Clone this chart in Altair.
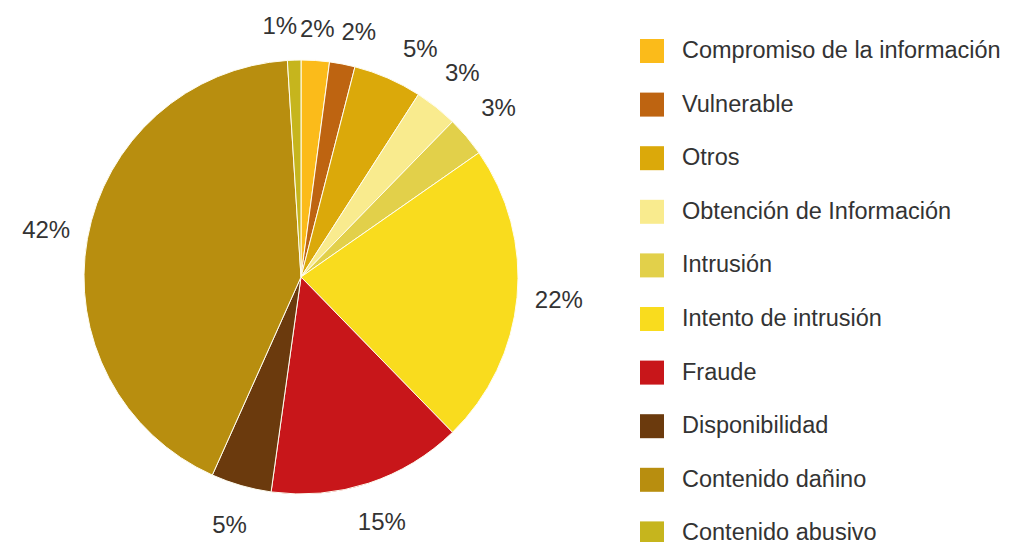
import altair as alt
import pandas as pd

categorias = [
    "Compromiso de la información",
    "Vulnerable",
    "Otros",
    "Obtención de Información",
    "Intrusión",
    "Intento de intrusión",
    "Fraude",
    "Disponibilidad",
    "Contenido dañino",
    "Contenido abusivo",
]
valores = [2.1, 1.9, 5.1, 3.2, 3.0, 22.4, 14.5, 4.5, 42.3, 1.0]
etiquetas = ["2%", "2%", "5%", "3%", "3%", "22%", "15%", "5%", "42%", "1%"]
colores = [
    "#FBBB1A",
    "#BE6411",
    "#DBA90A",
    "#F9EB8E",
    "#E2D04A",
    "#F9DC1E",
    "#C8161A",
    "#6B3A0D",
    "#B88E0F",
    "#C6B51D",
]

df = pd.DataFrame({
    "categoria": categorias,
    "valor": valores,
    "etiqueta": etiquetas,
    "orden": list(range(len(categorias))),
})

CX, CY = 293, 269

base = alt.Chart(df).encode(
    theta=alt.Theta("valor:Q", stack=True),
    order=alt.Order("orden:Q"),
    x=alt.value(CX),
    y=alt.value(CY),
)

pie = base.mark_arc(outerRadius=217, stroke="#fffdf0", strokeWidth=1).encode(
    color=alt.Color(
        "categoria:N",
        scale=alt.Scale(domain=categorias, range=colores),
        legend=alt.Legend(
            title=None,
            orient="none",
            legendX=632,
            legendY=31,
            symbolType="square",
            symbolSize=576,
            symbolStrokeWidth=0,
            labelFontSize=23.5,
            labelFont="Liberation Sans",
            labelColor="#333333",
            labelOffset=18,
            rowPadding=29.6,
            padding=0,
            labelLimit=400,
        ),
    ),
)

text_style = dict(fontSize=24, font="Liberation Sans", color="#333333", baseline="middle")
is_abusivo = alt.datum.categoria == "Contenido abusivo"
is_vuln = alt.datum.categoria == "Vulnerable"
is_comp = alt.datum.categoria == "Compromiso de la información"
is_otros = alt.datum.categoria == "Otros"

text_main = base.mark_text(align="center", radius=259, **text_style).encode(
    text=alt.condition(is_abusivo | is_vuln | is_comp | is_otros, alt.value(""), alt.Text("etiqueta:N")),
)
text_comp = base.mark_text(align="center", radius=248, **text_style).encode(
    text=alt.condition(is_comp, alt.Text("etiqueta:N"), alt.value("")),
)
text_abus = base.mark_text(align="right", dx=4, radius=250, **text_style).encode(
    text=alt.condition(is_abusivo, alt.Text("etiqueta:N"), alt.value("")),
)
text_vuln = base.mark_text(align="left", dx=-7, radius=249, **text_style).encode(
    text=alt.condition(is_vuln, alt.Text("etiqueta:N"), alt.value("")),
)
text_otros = base.mark_text(align="left", dx=0, dy=7, radius=255, **text_style).encode(
    text=alt.condition(is_otros, alt.Text("etiqueta:N"), alt.value("")),
)

chart = (pie + text_main + text_comp + text_abus + text_vuln + text_otros).properties(
    width=995,
    height=534,
    autosize=alt.AutoSizeParams(type="none"),
    padding=0,
).configure_view(strokeWidth=0)

chart.save("out.html", embed_options={"renderer": "svg", "actions": False})
